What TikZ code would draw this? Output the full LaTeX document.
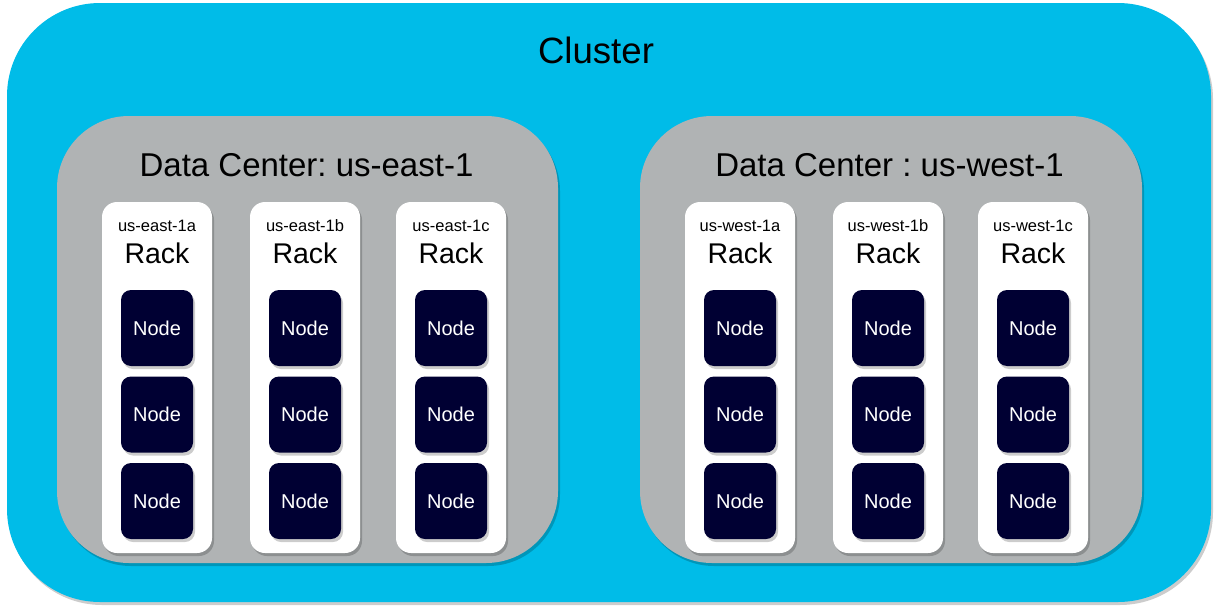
\documentclass[tikz,border=0pt]{standalone}
\usepackage{fontspec}
\setmainfont{Liberation Sans}
\usetikzlibrary{shadows}
\frenchspacing
\definecolor{clusterblue}{RGB}{0,188,232}
\definecolor{dcgray}{RGB}{176,179,180}
\definecolor{nodenavy}{RGB}{0,0,51}
\tikzset{
  softshadow/.style={drop shadow={shadow xshift=2pt,shadow yshift=-3pt,opacity=0.2,fill=black}},
  clusterbox/.style={rectangle,rounded corners=93pt,fill=clusterblue,softshadow,inner sep=0pt,
    minimum width=1204pt,minimum height=599pt},
  dcbox/.style={rectangle,rounded corners=72pt,fill=dcgray,softshadow,inner sep=0pt,
    minimum width=501pt,minimum height=447pt},
  rackbox/.style={rectangle,rounded corners=15pt,fill=white,softshadow,inner sep=0pt,
    minimum width=110pt,minimum height=351pt},
  srvbox/.style={rectangle,rounded corners=10pt,fill=nodenavy,softshadow,inner sep=0pt,
    minimum width=72pt,minimum height=76pt,text=white,font=\fontsize{20}{24}\selectfont},
  clustertitle/.style={anchor=base,inner sep=0pt,font=\fontsize{36.6}{40}\selectfont},
  dctitle/.style={anchor=base,inner sep=0pt,font=\fontsize{33}{37}\selectfont},
  zonelabel/.style={anchor=base,inner sep=0pt,font=\fontsize{16.5}{19}\selectfont},
  racklabel/.style={anchor=base,inner sep=0pt,font=\fontsize{28.5}{32}\selectfont},
}
\begin{document}
\begin{tikzpicture}[x=1pt,y=-1pt]
\useasboundingbox (0,0) rectangle (1218,613);
\node[clusterbox] (cluster) at (609,302.5) {};
\node[clustertitle] (clustert) at (596,63) {Cluster};
\node[dcbox] (dceast) at (307.5,339.5) {};
\node[dcbox,minimum width=502pt] (dcwest) at (891,339.5) {};
\node[dctitle] (dceastt) at (306.5,176) {Data Center: us-east-1};
\node[dctitle] (dcwestt) at (889.5,176) {Data Center : us-west-1};
\foreach \x/\z [count=\i] in {157/us-east-1a,305/us-east-1b,451/us-east-1c,740/us-west-1a,888/us-west-1b,1033/us-west-1c}{
  \node[rackbox] (rack\i) at (\x,377.5) {};
  \node[zonelabel] (zone\i) at (\x,231) {\z};
  \node[racklabel] (rackt\i) at (\x,263) {Rack};
  \foreach \y [count=\j] in {328,414.5,501}{
    \node[srvbox] (srv\i-\j) at (\x,\y) {Node};
  }
}
\end{tikzpicture}
\end{document}
